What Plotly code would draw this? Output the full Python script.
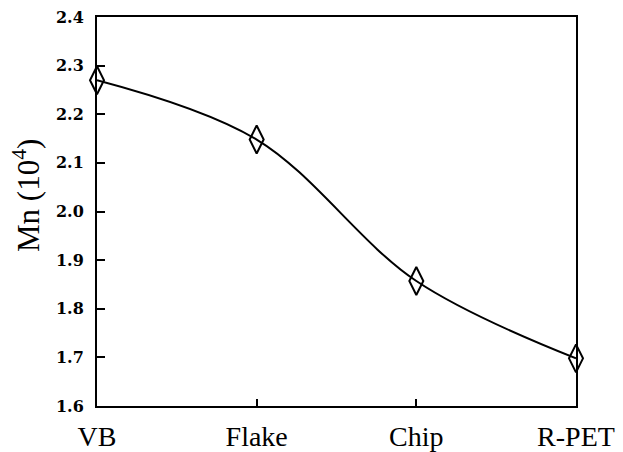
import plotly.graph_objects as go

categories = ["VB", "Flake", "Chip", "R-PET"]
mn_values = [2.27, 2.148, 1.857, 1.698]
y_ticks = [1.6, 1.7, 1.8, 1.9, 2.0, 2.1, 2.2, 2.3, 2.4]
y_tick_labels = ["1.6", "1.7", "1.8", "1.9", "2.0", "2.1", "2.2", "2.3", "2.4"]
y_title = "Mn (10<sup>4</sup>)"

xpos = list(range(len(categories)))

fig = go.Figure()
fig.add_trace(go.Scatter(
    x=xpos, y=mn_values, mode="lines+markers",
    line=dict(color="black", width=2, shape="spline", smoothing=1.0),
    marker=dict(symbol="diamond-tall-open", size=20, color="black",
                line=dict(width=2, color="black")),
    cliponaxis=False, showlegend=False,
))

fig.add_annotation(
    text=y_title, textangle=-90, showarrow=False,
    xref="paper", yref="paper", x=0, y=0.54,
    xanchor="center", yanchor="middle", xshift=-70,
    font=dict(family="Liberation Serif", size=31, color="black"),
)

fig.update_layout(
    width=623, height=452,
    margin=dict(l=97, r=47, t=17, b=46),
    plot_bgcolor="white", paper_bgcolor="white",
    xaxis=dict(
        range=[0, 3], tickvals=xpos, ticktext=categories,
        showline=True, linecolor="black", linewidth=2, mirror=True,
        ticks="inside", ticklen=7, tickwidth=1.5, tickcolor="black",
        showgrid=False, zeroline=False, ticklabelstandoff=4, automargin=False,
        tickfont=dict(family="Liberation Serif", size=28, color="black"),
    ),
    yaxis=dict(
        range=[1.6, 2.4], tickvals=y_ticks,
        ticktext=[f"<b>{t}</b>" for t in y_tick_labels],
        showline=True, linecolor="black", linewidth=2, mirror=True,
        ticks="inside", ticklen=8, tickwidth=1.5, tickcolor="black",
        showgrid=False, zeroline=False, ticklabelstandoff=8, automargin=False,
        tickfont=dict(family="DejaVu Serif", size=16, color="black"),
    ),
)

fig.write_html("out.html")
